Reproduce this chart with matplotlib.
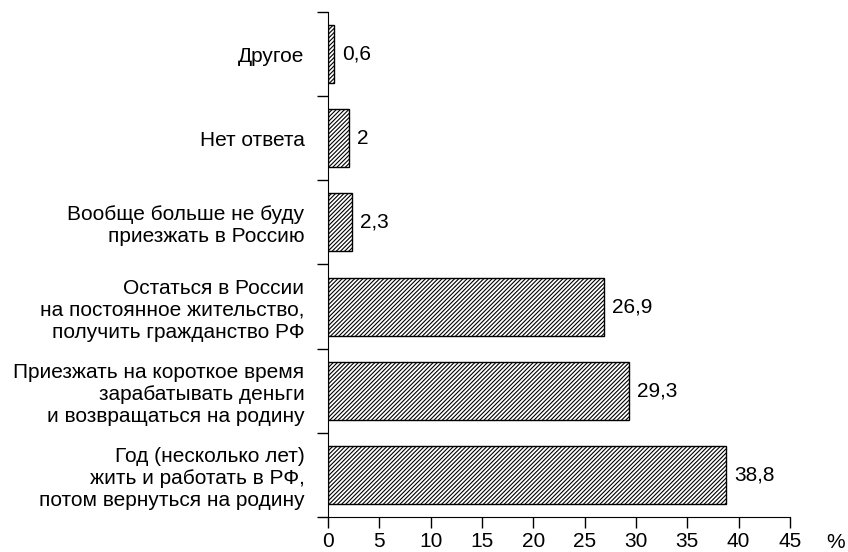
import numpy as np
import matplotlib.pyplot as plt
import matplotlib as mpl

plt.rcParams['font.family'] = ['Liberation Sans', 'DejaVu Sans']
mpl.rcParams['hatch.linewidth'] = 0.8

categories = [
    'Год (несколько лет)\nжить и работать в РФ,\nпотом вернуться на родину',
    'Приезжать на короткое время\nзарабатывать деньги\nи возвращаться на родину',
    'Остаться в России\nна постоянное жительство,\nполучить гражданство РФ',
    'Вообще больше не буду\nприезжать в Россию',
    'Нет ответа',
    'Другое',
]
values = [38.8, 29.3, 26.9, 2.3, 2, 0.6]
value_labels = ['38,8', '29,3', '26,9', '2,3', '2', '0,6']
xticks = [0, 5, 10, 15, 20, 25, 30, 35, 40, 45]

fig = plt.figure(figsize=(8.48, 5.52), dpi=100)
ax = fig.add_axes([0.3868, 0.0634, 0.9316 - 0.3868, 0.9783 - 0.0634])

y = np.arange(len(values))
ax.barh(y, values, height=0.69, color='white', edgecolor='black',
        hatch='////////', linewidth=1)

for yi, v, lab in zip(y, values, value_labels):
    ax.text(v + 0.8, yi, lab, va='center', ha='left', fontsize=15)

ax.set_xlim(0, 45)
ax.set_ylim(-0.5, len(values) - 0.5)
ax.set_xticks(xticks)
ax.set_xticklabels([str(t) for t in xticks], fontsize=15)
ax.tick_params(axis='x', direction='out', length=8, width=1, pad=3)

ax.set_yticks(y)
ax.set_yticklabels(categories, fontsize=15)
ax.set_yticks(np.arange(-0.5, len(values), 1.0), minor=True)
ax.tick_params(axis='y', which='major', length=0, pad=17)
ax.tick_params(axis='y', which='minor', length=8, width=1, direction='out')

for s in ['top', 'right']:
    ax.spines[s].set_visible(False)

fig.text(836 / 848, 1 - 543 / 552, '%', fontsize=15, ha='center', va='center')

fig.savefig('out.png', dpi=100)
